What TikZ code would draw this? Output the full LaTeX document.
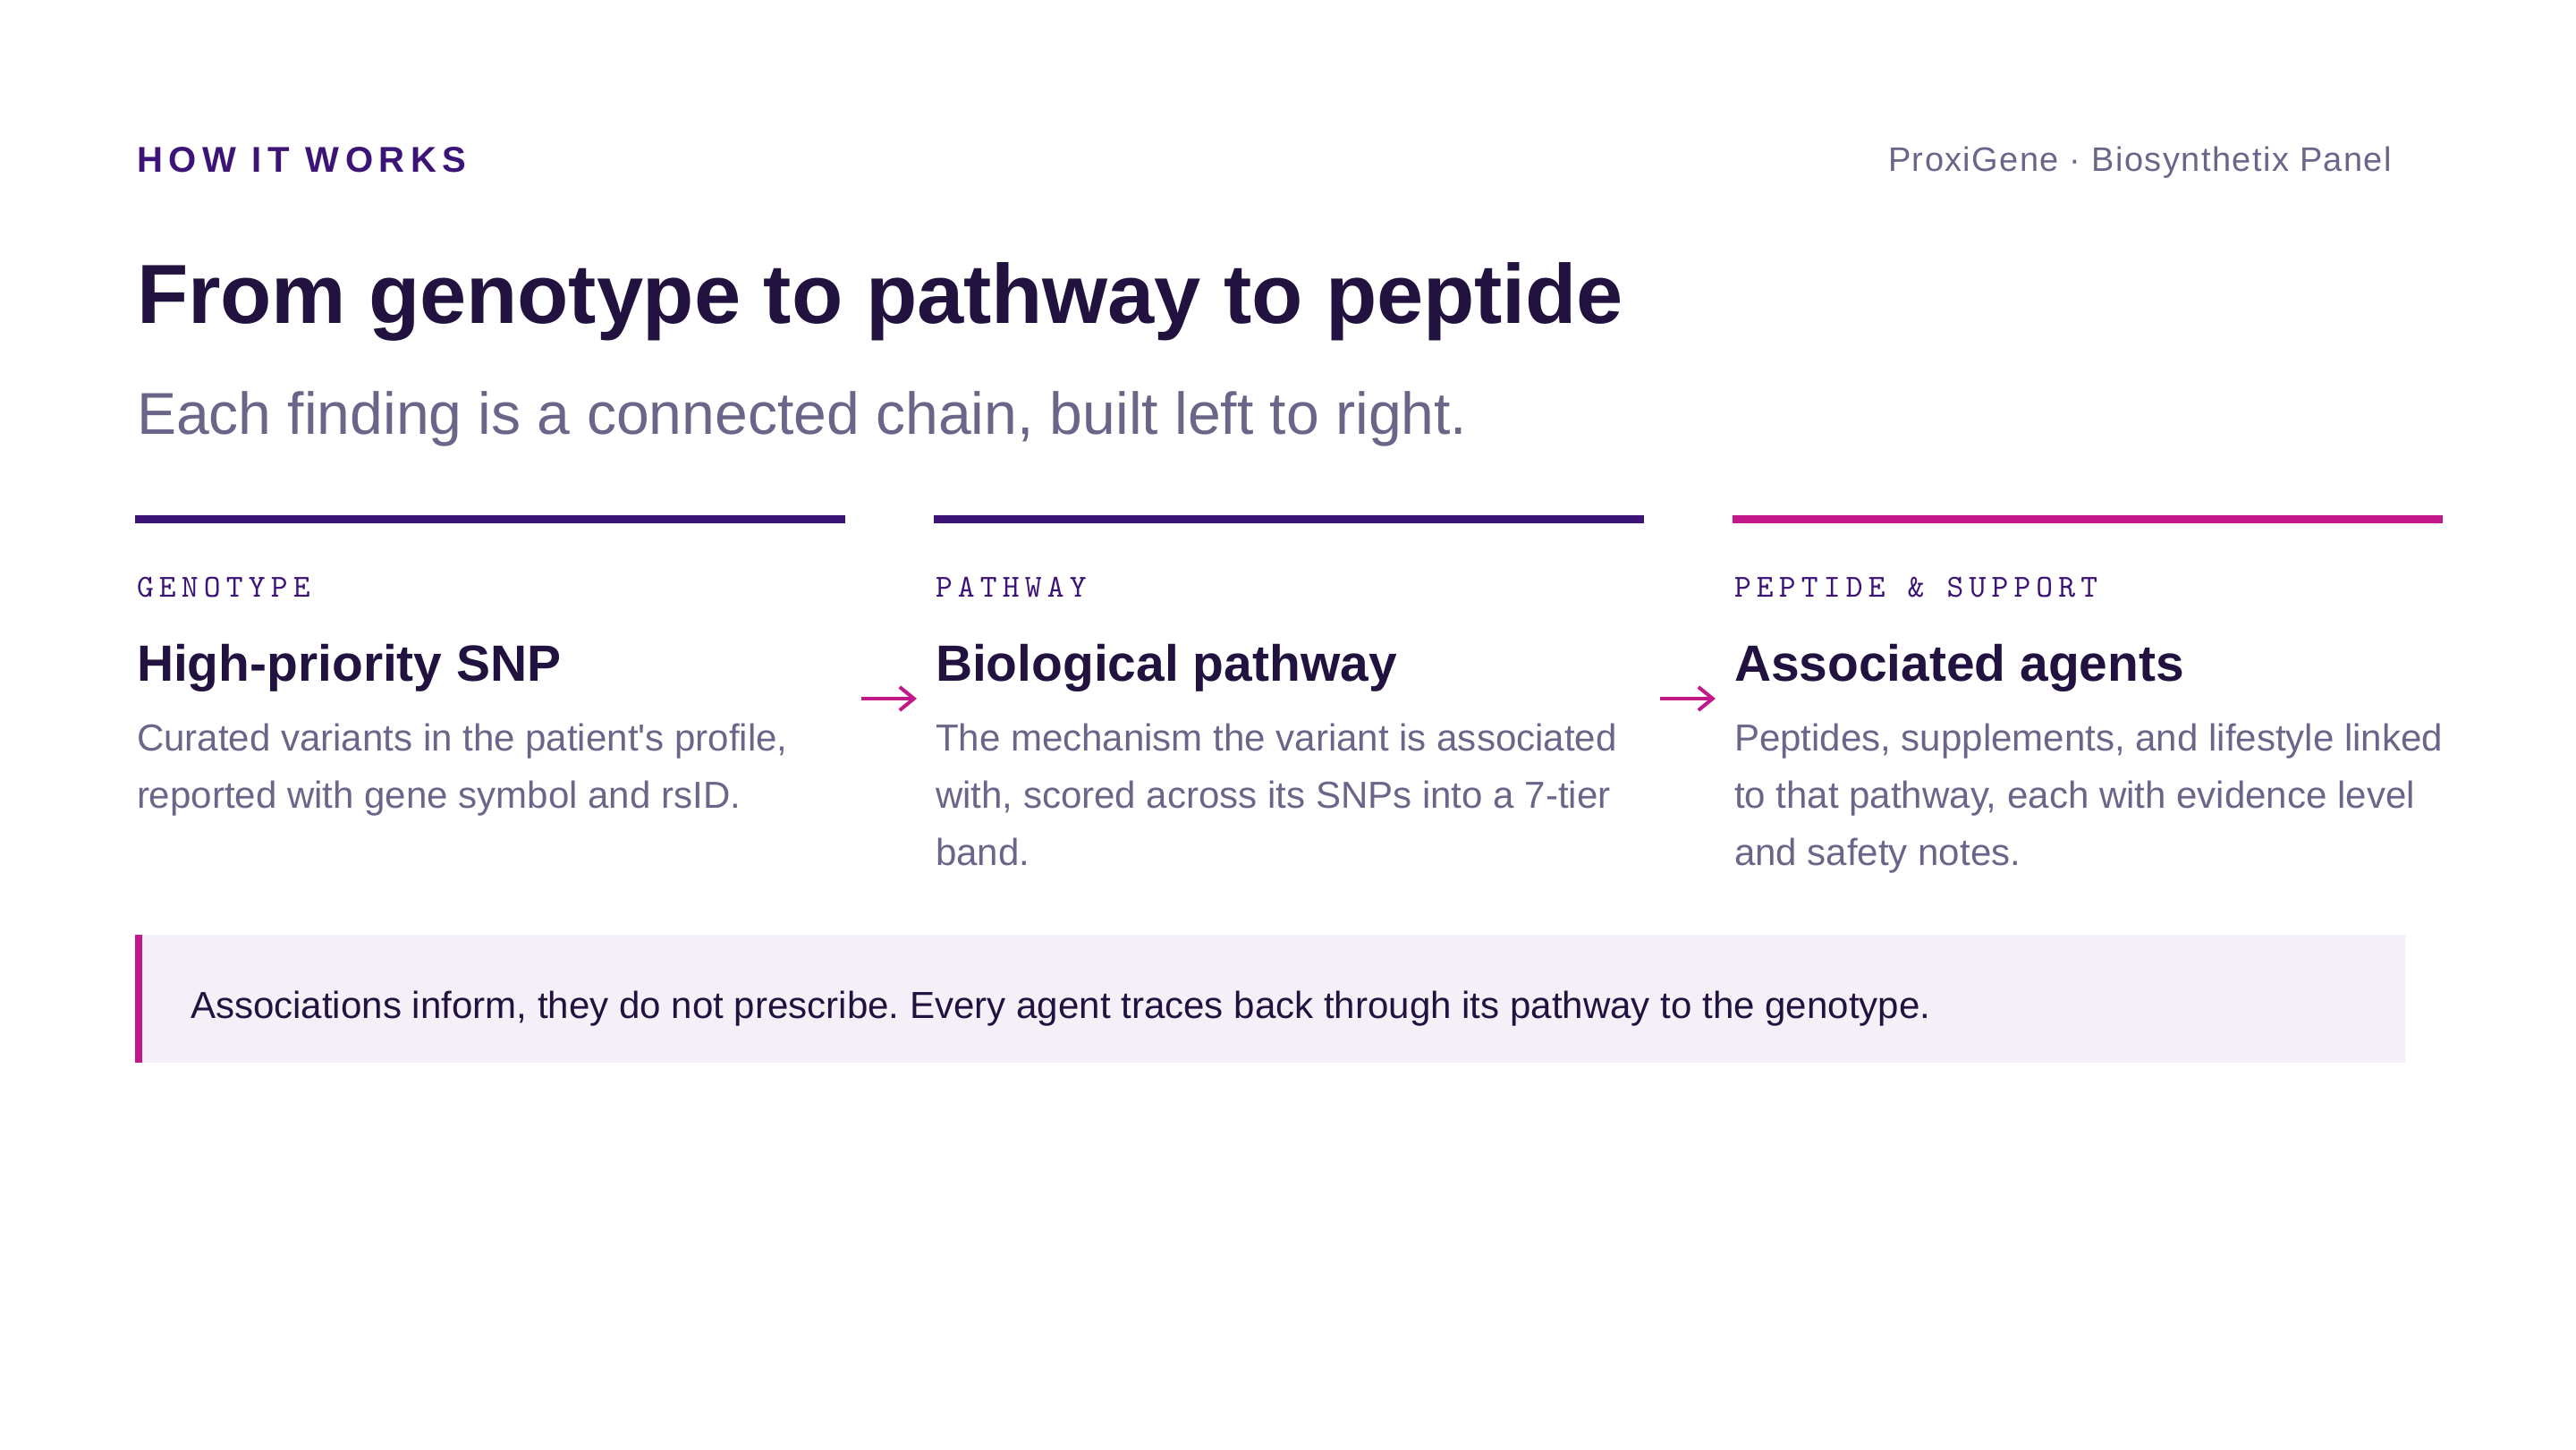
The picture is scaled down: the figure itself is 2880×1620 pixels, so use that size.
\documentclass[tikz,border=0pt]{standalone}
\usepackage{fontspec}
\setmainfont{Liberation Sans}
\newfontfamily\labelmono{Latin Modern Mono}[LetterSpace=17.2]
\usetikzlibrary{arrows.meta}

\definecolor{deepviolet}{HTML}{3C1478}
\definecolor{inkpurple}{HTML}{21123F}
\definecolor{mutedgray}{HTML}{6B6589}
\definecolor{accentpink}{HTML}{C2188A}
\definecolor{calloutbg}{HTML}{F5F0F8}

\newcommand{\fsz}[2]{\fontsize{#1}{#2}\selectfont}
\frenchspacing

\tikzset{
  txt/.style={anchor=base west, inner sep=0pt, outer sep=0pt},
  kicker/.style={txt, text=deepviolet, font=\fsz{11.4pt}{13pt}\bfseries\addfontfeature{LetterSpace=16.4}},
  brand/.style={txt, anchor=base east, text=mutedgray, font=\fsz{10.8pt}{13pt}\addfontfeature{LetterSpace=3.8}},
  headline/.style={txt, text=inkpurple, font=\fsz{26.7pt}{30pt}\bfseries\addfontfeature{LetterSpace=-0.25}},
  subline/.style={txt, text=mutedgray, font=\fsz{18.8pt}{22pt}},
  bar/.style={line width=0.9mm},
  steplabel/.style={txt, text=deepviolet, font=\fsz{10.2pt}{12pt}\labelmono},
  steptitle/.style={txt, text=inkpurple, font=\fsz{16.2pt}{19pt}\bfseries},
  stepbody/.style={txt, align=left, text=mutedgray, font=\fsz{11.96pt}{18.2pt}},
  flow/.style={accentpink, line width=0.4mm, -{Straight Barb[length=1.6mm, width=2.6mm, line width=0.4mm]}},
  notetext/.style={txt, text=inkpurple, font=\fsz{11.97pt}{14pt}}
}

\begin{document}
\begin{tikzpicture}[x=0.1mm, y=-0.1mm]
  \useasboundingbox[fill=white] (0,0) rectangle (2880,1620);

  % header
  \node[kicker] (kick) at (153,192) {HOW IT WORKS};
  \node[brand] (brand) at (2674,191) {ProxiGene · Biosynthetix Panel};
  \node[headline] (title) at (153,361) {From genotype to pathway to peptide};
  \node[subline] (sub) at (153,485) {Each finding is a connected chain, built left to right.};

  % column rules
  \draw[bar, deepviolet] (151,580) -- (945,580);
  \draw[bar, deepviolet] (1044,580) -- (1838,580);
  \draw[bar, accentpink] (1937,580) -- (2731,580);

  % genotype column (body anchored on its last line)
  \node[steplabel] (genolabel) at (153,667) {GENOTYPE};
  \node[steptitle] (snp) at (153,761) {High-priority SNP};
  \node[stepbody] (snpbody) at (153,903) {Curated variants in the patient\textquotesingle s profile,\\reported with gene symbol and rsID.};

  % pathway column
  \node[steplabel] (pathlabel) at (1046,667) {PATHWAY};
  \node[steptitle] (path) at (1046,761) {Biological pathway};
  \node[stepbody] (pathbody) at (1046,967) {The mechanism the variant is associated\\with, scored across its SNPs into a 7-tier\\band.};

  % agents column
  \node[steplabel] (agentlabel) at (1939,667) {PEPTIDE \& SUPPORT};
  \node[steptitle] (agents) at (1939,761) {Associated agents};
  \node[stepbody] (agentbody) at (1939,967) {Peptides, supplements, and lifestyle linked\\to that pathway, each with evidence level\\and safety notes.};

  % arrows between columns
  \coordinate (gapa) at (963,781);
  \coordinate (gapb) at (1025,781);
  \coordinate (gapc) at (1856,781);
  \coordinate (gapd) at (1918,781);
  \draw[flow] (gapa) -- (gapb);
  \draw[flow] (gapc) -- (gapd);

  % callout
  \fill[calloutbg] (151,1045) rectangle (2689,1188);
  \fill[accentpink] (151,1045) rectangle (159,1188);
  \node[notetext] (note) at (213,1138) {Associations inform, they do not prescribe. Every agent traces back through its pathway to the genotype.};
\end{tikzpicture}
\end{document}
